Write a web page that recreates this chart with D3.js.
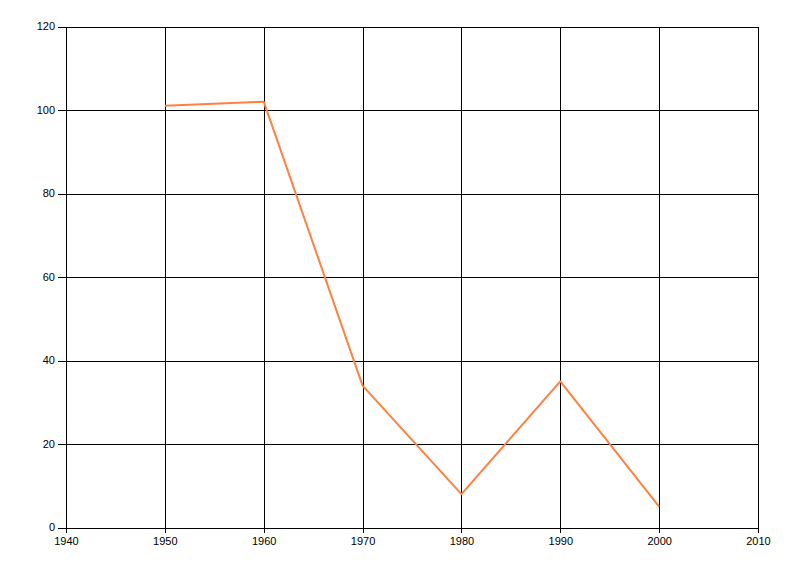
<!DOCTYPE html>
<html>
<head>
<meta charset="utf-8">
<script src="https://cdn.jsdelivr.net/npm/d3@7"></script>
<style>
  html, body { margin: 0; padding: 0; background: #fff; }
  svg text { font-family: "Liberation Sans", Arial, sans-serif; font-size: 11px; fill: #000; }
</style>
</head>
<body>
<svg id="chart" width="800" height="576"></svg>
<script>
const years = [1950, 1960, 1970, 1980, 1990, 2000];
const values = [101, 102, 34, 8, 35, 5];
const xTicks = [1940, 1950, 1960, 1970, 1980, 1990, 2000, 2010];
const yTicks = [0, 20, 40, 60, 80, 100, 120];

(function () {
const svg = d3.select("#chart");
const pLeft = 66, pRight = 758, pTop = 26.5, pBottom = 527.5;

const x = d3.scaleLinear().domain([1940, 2010]).range([pLeft, pRight]);
const y = d3.scaleLinear().domain([0, 120]).range([pBottom, pTop]);

// grid
const grid = svg.append("g").attr("stroke", "#000").attr("stroke-width", 1).attr("shape-rendering", "crispEdges");
grid.selectAll("line.v").data(xTicks).join("line")
  .attr("x1", d => Math.round(x(d)) + 0.5).attr("x2", d => Math.round(x(d)) + 0.5)
  .attr("y1", pTop).attr("y2", pBottom + 5);
grid.selectAll("line.h").data(yTicks).join("line")
  .attr("y1", d => Math.round(y(d)) + 0.5).attr("y2", d => Math.round(y(d)) + 0.5)
  .attr("x1", pLeft - 8).attr("x2", pRight);

// y labels
svg.append("g").selectAll("text").data(yTicks).join("text")
  .attr("x", 55).attr("y", d => y(d)).attr("dy", "0.35em")
  .attr("text-anchor", "end").text(d => d);

// x labels
svg.append("g").selectAll("text").data(xTicks).join("text")
  .attr("x", d => x(d) + 0.5).attr("y", 545)
  .attr("text-anchor", "middle").text(d => d);

// line
const line = d3.line().x((d, i) => x(years[i])).y(d => y(d));
svg.append("path").datum(values)
  .attr("d", line)
  .attr("fill", "none")
  .attr("stroke", "#FF8040")
  .attr("stroke-width", 2)
  .attr("stroke-linejoin", "round");
})();
</script>
</body>
</html>
